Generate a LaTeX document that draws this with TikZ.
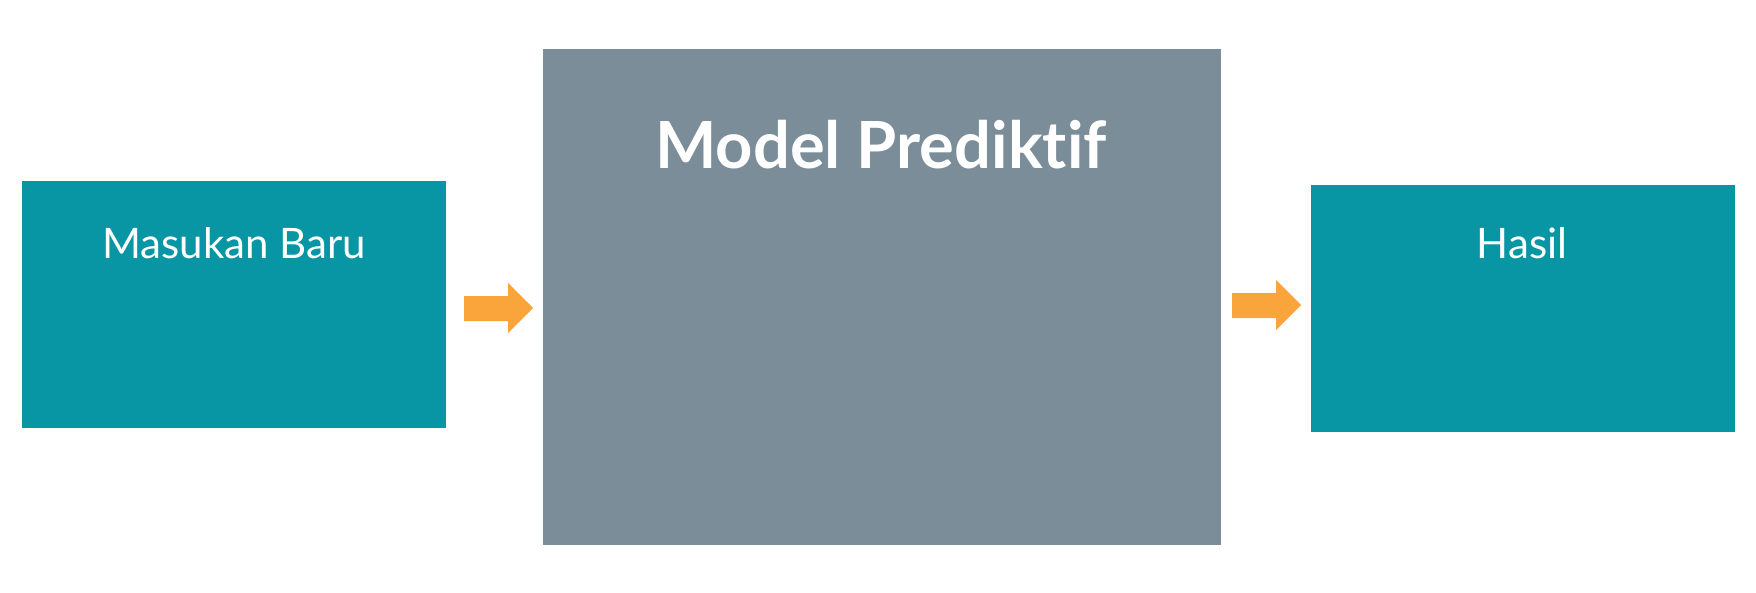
\documentclass[tikz,border=0pt]{standalone}
\usepackage{fontspec}
\setmainfont[Ligatures=NoCommon]{Lato}
\definecolor{teal}{HTML}{0895A4}
\definecolor{slate}{HTML}{7A8D99}
\definecolor{arrow}{HTML}{FAA43C}
\begin{document}
\begin{tikzpicture}[x=1pt,y=-1pt,
  tealbox/.style={fill=teal,draw=none},
  graybox/.style={fill=slate,draw=none},
  lbl/.style={text=white,font=\fontsize{42}{48}\selectfont,anchor=base},
  blockarrow/.style={fill=arrow,draw=none}]
\useasboundingbox[fill=white] (0,0) rectangle (1756,592);
\path[tealbox] (22,181) rectangle (446,428);
\path[graybox] (543,49) rectangle (1221,545);
\path[tealbox] (1311,185) rectangle (1735,432);
\node[lbl] (in) at (234,258) {Masukan Baru};
\node[text=white,font=\bfseries\fontsize{65}{72}\selectfont,anchor=base] (model) at (881,168) {Model Prediktif};
\node[lbl] (out) at (1522,258) {Hasil};
\path[blockarrow] (464,296) -- (508,296) -- (508,283) -- (533,308) -- (508,333) -- (508,321) -- (464,321) -- cycle;
\path[blockarrow] (1232,293) -- (1276,293) -- (1276,280) -- (1301,305) -- (1276,330) -- (1276,318) -- (1232,318) -- cycle;
\end{tikzpicture}
\end{document}
